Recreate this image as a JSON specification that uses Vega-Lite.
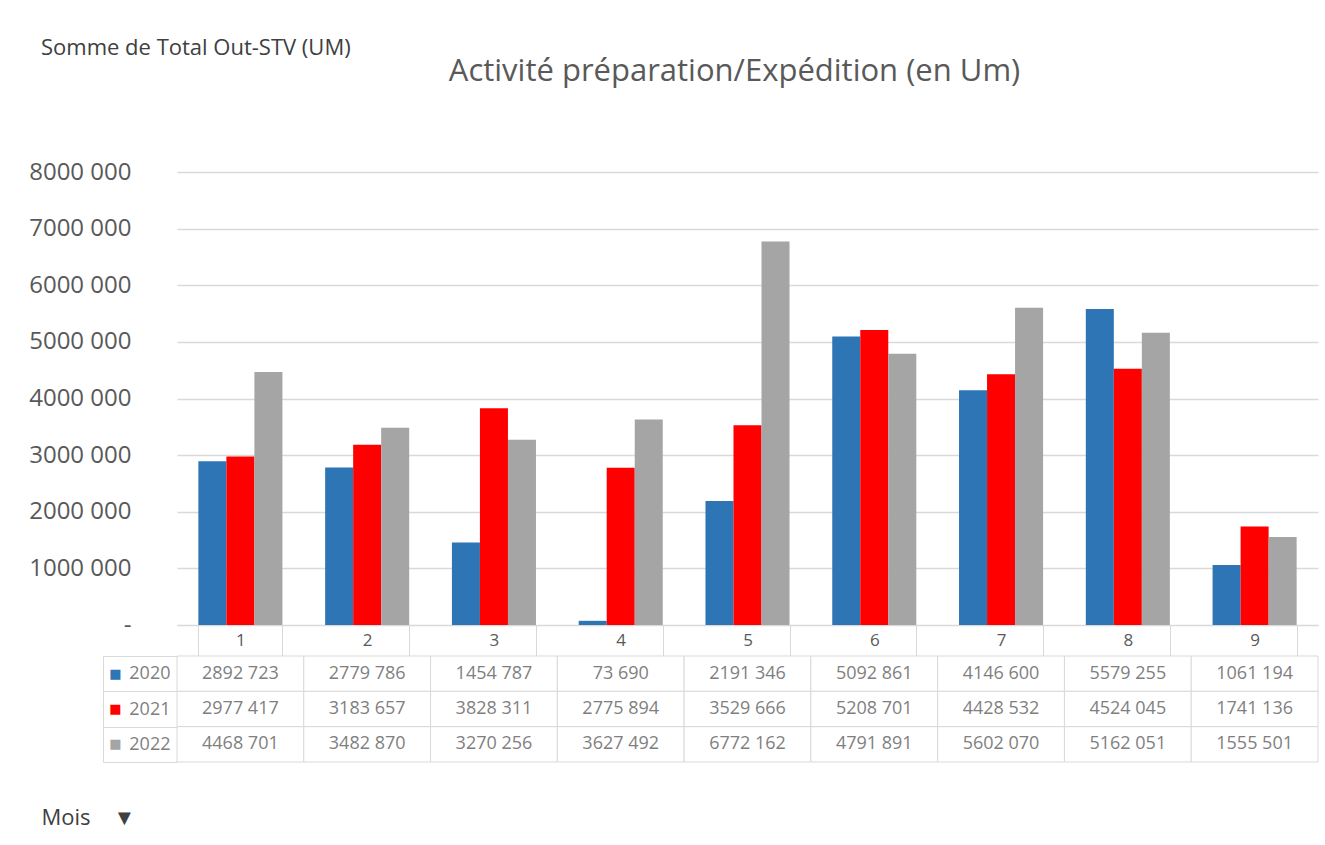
{
  "$schema": "https://vega.github.io/schema/vega-lite/v6.json",
  "padding": {"left": 28, "top": 37, "right": 4, "bottom": 12},
  "background": "white",
  "title": {"text": "Somme de Total Out-STV (UM)", "anchor": "start", "frame": "group", "dx": -136, "offset": -4, "fontSize": 22, "font": "Open Sans", "fontWeight": "normal", "color": "#404040"},
  "bounds": "flush",
  "spacing": 31,
  "resolve": {"scale": {"x": "independent", "y": "independent"}},
  "data": {"values": [
    {"mois": 1, "annee": "2020", "v": 2892723},
    {"mois": 2, "annee": "2020", "v": 2779786},
    {"mois": 3, "annee": "2020", "v": 1454787},
    {"mois": 4, "annee": "2020", "v": 73690},
    {"mois": 5, "annee": "2020", "v": 2191346},
    {"mois": 6, "annee": "2020", "v": 5092861},
    {"mois": 7, "annee": "2020", "v": 4146600},
    {"mois": 8, "annee": "2020", "v": 5579255},
    {"mois": 9, "annee": "2020", "v": 1061194},
    {"mois": 1, "annee": "2021", "v": 2977417},
    {"mois": 2, "annee": "2021", "v": 3183657},
    {"mois": 3, "annee": "2021", "v": 3828311},
    {"mois": 4, "annee": "2021", "v": 2775894},
    {"mois": 5, "annee": "2021", "v": 3529666},
    {"mois": 6, "annee": "2021", "v": 5208701},
    {"mois": 7, "annee": "2021", "v": 4428532},
    {"mois": 8, "annee": "2021", "v": 4524045},
    {"mois": 9, "annee": "2021", "v": 1741136},
    {"mois": 1, "annee": "2022", "v": 4468701},
    {"mois": 2, "annee": "2022", "v": 3482870},
    {"mois": 3, "annee": "2022", "v": 3270256},
    {"mois": 4, "annee": "2022", "v": 3627492},
    {"mois": 5, "annee": "2022", "v": 6772162},
    {"mois": 6, "annee": "2022", "v": 4791891},
    {"mois": 7, "annee": "2022", "v": 5602070},
    {"mois": 8, "annee": "2022", "v": 5162051},
    {"mois": 9, "annee": "2022", "v": 1555501}
  ]},
  "vconcat": [
    {
      "width": 1141,
      "height": 453,
      "title": {"text": "Activité préparation/Expédition (en Um)", "fontSize": 31, "fontWeight": "normal", "color": "#595959", "anchor": "middle", "offset": 72, "dx": -13},
      "mark": {"type": "bar"},
      "encoding": {
        "x": {"field": "mois", "type": "ordinal",
          "scale": {"paddingInner": 0.337, "paddingOuter": 0.1685},
          "axis": {"title": null, "labelAngle": 0, "labelFontSize": 17, "labelColor": "#595959", "tickBand": "extent", "tickSize": 31, "tickColor": "#d9d9d9", "domainColor": "#d9d9d9", "labelPadding": -24, "grid": false}},
        "xOffset": {"field": "annee", "type": "nominal", "scale": {"paddingInner": 0, "paddingOuter": 0}},
        "y": {"field": "v", "type": "quantitative",
          "scale": {"domain": [0, 8000000], "nice": false},
          "axis": {"title": null, "values": [0, 1000000, 2000000, 3000000, 4000000, 5000000, 6000000, 7000000, 8000000], "format": ",d", "labelExpr": "datum.value == 0 ? '-' : datum.label", "labelFontSize": 24, "labelColor": "#595959", "labelPadding": 46, "ticks": false, "domain": false, "gridColor": "#d9d9d9", "gridWidth": 1.5}},
        "color": {"field": "annee", "type": "nominal", "scale": {"domain": ["2020", "2021", "2022"], "range": ["#2E75B6", "#FF0000", "#A5A5A5"]}, "legend": null}
      }
    },
    {
      "width": 1141,
      "height": 106,
      "resolve": {"axis": {"y": "independent"}},
      "layer": [
        {
          "mark": {"type": "rect", "fill": "white", "stroke": "#d9d9d9", "strokeWidth": 1},
          "encoding": {
            "x": {"field": "mois", "type": "ordinal", "scale": {"paddingInner": 0, "paddingOuter": 0},
              "axis": {"title": "Mois\u00a0\u00a0\u00a0\u00a0▼", "labels": false, "ticks": false, "domain": false, "grid": false, "titleX": -136, "titleY": 55, "titleAlign": "left", "titleAnchor": "start", "titleBaseline": "middle", "titleFontSize": 22, "titleFontWeight": "normal", "titleColor": "#404040"}},
            "y": {"field": "annee", "type": "nominal", "scale": {"paddingInner": 0, "paddingOuter": 0},
              "axis": {"orient": "left", "title": null, "tickBand": "extent", "tickSize": 74, "tickColor": "#d9d9d9", "domain": false, "grid": false, "labelPadding": -67, "labelFontSize": 18, "labelColor": "#7f7f7f"}}
          }
        },
        {
          "mark": {"type": "text", "fontSize": 18, "color": "#7f7f7f"},
          "encoding": {
            "x": {"field": "mois", "type": "ordinal"},
            "y": {"field": "annee", "type": "nominal",
              "axis": {"orient": "left", "title": null, "labelExpr": "'■'", "labelFont": "DejaVu Sans", "labelFontSize": 13, "ticks": false, "domain": false, "grid": false, "labelPadding": 56,
                "labelColor": {"condition": [{"test": "datum.value === '2020'", "value": "#2E75B6"}, {"test": "datum.value === '2021'", "value": "#FF0000"}], "value": "#A5A5A5"}}},
            "text": {"field": "v", "type": "quantitative", "format": ",d"}
          }
        },
        {
          "mark": {"type": "text", "text": ""},
          "encoding": {
            "y": {"field": "annee", "type": "nominal",
              "axis": {"orient": "left", "offset": 74, "labels": false, "ticks": false, "domain": true, "domainColor": "#d9d9d9", "title": null, "grid": false}}
          }
        }
      ]
    }
  ],
  "config": {
    "font": "Open Sans",
    "view": {"stroke": null},
    "locale": {"number": {"decimal": ",", "thousands": "\u00a0", "grouping": [3, 4], "currency": ["", "\u00a0€"]}}
  }
}
